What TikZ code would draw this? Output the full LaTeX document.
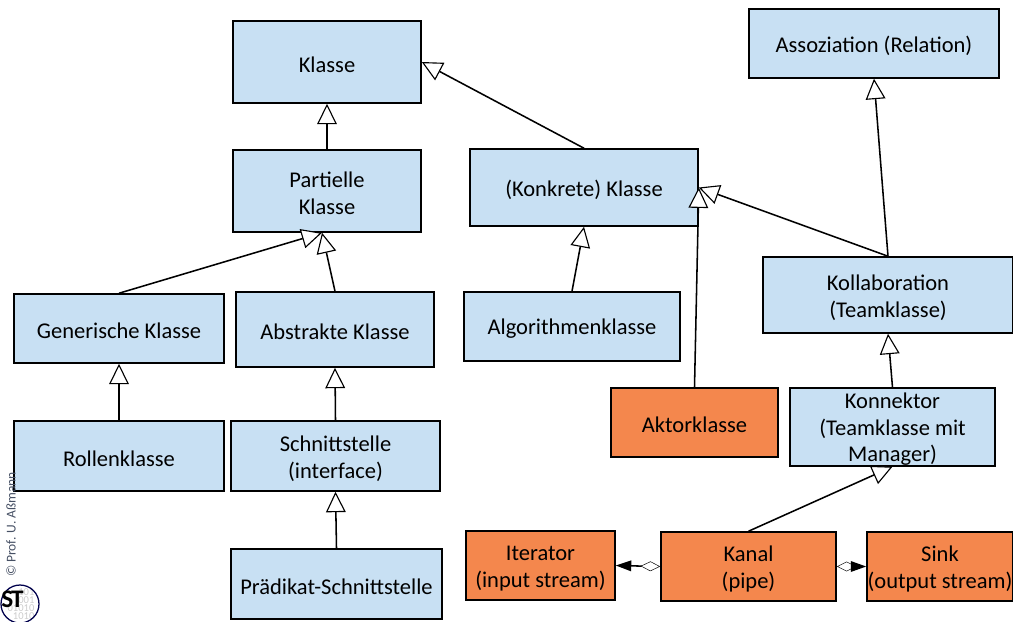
\documentclass[tikz,border=0pt]{standalone}
\usepackage{fontspec}
\setmainfont{Carlito}
\usetikzlibrary{arrows.meta}
\definecolor{classblue}{RGB}{200,224,243}
\definecolor{activeorange}{RGB}{244,135,77}
\definecolor{copygray}{RGB}{70,80,100}
\tikzset{
  classbox/.style={draw, line width=1.1pt, fill=classblue, inner sep=0pt, align=center, font=\fontsize{16}{19}\selectfont},
  activebox/.style={classbox, fill=activeorange},
  inherit/.style={-{Triangle[open, fill=white, length=14.5pt, width=14pt, line width=0.8pt]}, line width=1.1pt},
  partof/.style={{Diamond[open, fill=white, length=14pt, width=7pt, line width=0.35pt]}-{Triangle[length=11pt, width=7.5pt]}, line width=1.1pt}
}
\newcommand{\classnode}[6][classbox]{%
  \node[#1, minimum width=#4*0.025cm, minimum height=#5*0.025cm] (#2) at (#3) {\rule{0pt}{14.5pt}#6};}
\begin{document}
\begin{tikzpicture}[x=0.025cm, y=-0.025cm]
\useasboundingbox (0,0) rectangle (1013,621);
% Left column
\classnode{klasse}{327,62}{188}{82}{Klasse}
\classnode{partielle}{327,191}{188}{82}{Partielle\\Klasse}
\classnode{generisch}{119,328.5}{210}{69}{Generische Klasse}
\classnode{abstrakt}{335,329.5}{198}{75}{Abstrakte Klasse}
\classnode{rolle}{119,456}{210}{70}{Rollenklasse}
\classnode{schnitt}{335.5,456}{209}{70}{Schnittstelle\\(interface)}
\classnode{praedikat}{336.5,584}{211}{70}{Prädikat-Schnittstelle}
% Middle and right
\classnode{konkret}{584,187.5}{228}{77}{(Konkrete) Klasse}
\classnode{algo}{572,326.5}{216}{69}{Algorithmenklasse}
\classnode{assoz}{874,43.5}{250}{69}{Assoziation (Relation)}
\classnode{kollab}{888,295}{250}{76}{Kollaboration\\(Teamklasse)}
\classnode{konnektor}{892.5,427}{205}{70}{Konnektor\\(Teamklasse mit\\Manager)}
% Active classes
\classnode[activebox]{aktor}{694.5,422.5}{167}{69}{Aktorklasse}
\classnode[activebox]{iterator}{540.5,565.5}{149}{69}{Iterator\\(input stream)}
\classnode[activebox]{kanal}{748.5,566.5}{175}{69}{Kanal\\(pipe)}
\classnode[activebox]{sink}{940,566.5}{146}{69}{Sink\\(output stream)}

% Inheritance
\draw[inherit] (partielle) -- (klasse);
\draw[inherit] (konkret.north) -- (klasse.east);
\draw[inherit] (generisch.north) -- ([xshift=-0.125cm]partielle.south);
\draw[inherit] (abstrakt.north) -- ([xshift=-0.125cm]partielle.south);
\draw[inherit] (rolle) -- (generisch);
\draw[inherit] (schnitt.north) -- (abstrakt.south);
\draw[inherit] (praedikat.north) -- (schnitt.south);
\draw[inherit] (algo.north) -- (konkret.south);
\draw[inherit] (aktor.north) -- (konkret.east);
\draw[inherit] (kollab.north) -- (konkret.east);
\draw[inherit] (kollab.north) -- (assoz.south);
\draw[inherit] (konnektor.north) -- (kollab.south);
\draw[inherit] (kanal.north) -- (konnektor.south);
% Channels
\draw[partof] (kanal.west) -- (iterator.east);
\draw[partof] (kanal.east) -- (sink.west);

% Copyright and logo
\node[rotate=90, text=copygray, font=\fontsize{9.6}{10}\selectfont, inner sep=0pt] (copy) at (11,524.5) {© Prof. U. Aßmann};
\node[text=black!20, font=\fontsize{7.5}{5.8}\selectfont, align=right, inner sep=0pt] (bits) at (21,604) {101\\001\\01010\\1010};
\begin{scope}
\clip (0,584) rectangle (40,621);
\draw[line width=0.9pt, black!70!blue] (20,604) circle (19);
\end{scope}
\node[font=\fontsize{18}{18}\selectfont\bfseries, inner sep=0pt] (logo) at (12.5,599) {S\kern-1.5pt T};
\end{tikzpicture}
\end{document}
